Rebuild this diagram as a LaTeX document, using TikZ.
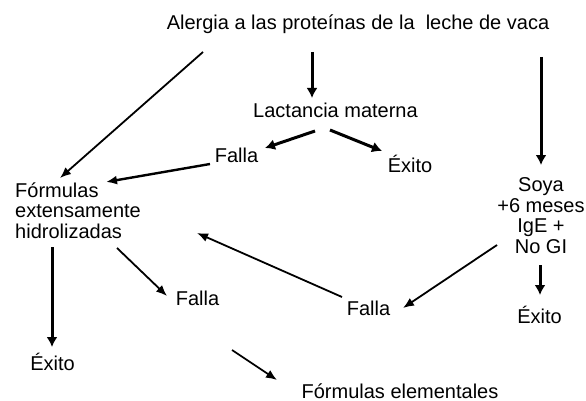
\documentclass[tikz,border=0pt]{standalone}
\usepackage{fontspec}
\setmainfont{Liberation Sans}
\usepackage{tikz}
\usetikzlibrary{arrows.meta}
\tikzstyle{txt}=[
	inner sep=0pt,
	anchor=base,
	font=\fontsize{20}{20.5}\selectfont
]
\tikzstyle{thinedge}=[
	-{Latex[length=11pt,width=9pt]},
	line width=1.8pt,
	draw=black
]
\tikzstyle{thickedge}=[
	-{Latex[length=10pt,width=11pt]},
	line width=3pt,
	draw=black
]

\begin{document}
\begin{tikzpicture}[x=1pt, y=-1pt]
\useasboundingbox (0,0) rectangle (586,401);

\node[txt] at (358,30) (alergia) {Alergia a las proteínas de la \ leche de vaca};
\node[txt] at (335.5,118) (lact) {Lactancia materna};
\node[txt] at (236.5,162) (falla1) {Falla};
\node[txt] at (410,172) (exito1) {Éxito};
\node[txt, align=left, anchor=base west] at (15,238) (form) {Fórmulas\\extensamente\\hidrolizadas};
\node[txt] at (52.5,370) (exito2) {Éxito};
\node[txt] at (197.5,305) (falla2) {Falla};
\node[txt] at (368.5,315) (falla3) {Falla};
\node[txt, align=center] at (541,253) (soya) {Soya\\+6 meses\\IgE +\\No GI};
\node[txt] at (539.5,323) (exito3) {Éxito};
\node[txt] at (400,398) (elem) {Fórmulas elementales};

% desde el diagnostico
\draw[thinedge] ([shift={(-155,22)}]alergia.base) -- ([shift={(45,-60)}]form.base west);
\draw[thickedge] ([shift={(-46,22)}]alergia.base) -- ([shift={(-23.5,-20)}]lact.base);
\draw[thickedge] ([shift={(183,27)}]alergia.base) -- ([shift={(0,-88)}]soya.base);

% lactancia
\draw[thickedge] ([shift={(-20.5,13)}]lact.base) -- ([shift={(28.5,-14)}]falla1.base);
\draw[thickedge] ([shift={(-5.5,12)}]lact.base) -- ([shift={(-28,-21)}]exito1.base);
\draw[thinedge, line width=2.4pt] ([shift={(-26.5,2)}]falla1.base) -- ([shift={(91,-56)}]form.base west);

% formulas hidrolizadas
\draw[thickedge] ([shift={(37,9)}]form.base west) -- ([shift={(-0.5,-23)}]exito2.base);
\draw[thinedge] ([shift={(102,10)}]form.base west) -- ([shift={(-30.5,-9)}]falla2.base);
\draw[thinedge] ([shift={(34.5,45)}]falla2.base) -- ([shift={(-123,-18)}]elem.base);

% soya
\draw[thinedge] ([shift={(-26.5,-18)}]falla3.base) -- ([shift={(182,-5)}]form.base west);
\draw[thinedge] ([shift={(-44,-8)}]soya.base) -- ([shift={(34.5,-7)}]falla3.base);
\draw[thickedge] ([shift={(-1,12)}]soya.base) -- ([shift={(0.5,-28)}]exito3.base);
\end{tikzpicture}
\end{document}
